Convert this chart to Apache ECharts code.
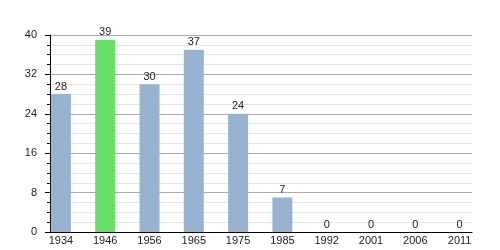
<!DOCTYPE html>
<html><head><meta charset="utf-8">
<script src="https://cdn.jsdelivr.net/npm/echarts@6/dist/echarts.min.js"></script>
<style>html,body{margin:0;padding:0;background:#fff}#c{width:500px;height:250px}</style>
</head><body><div id="c"></div>
<script>
const years = ['1934','1946','1956','1965','1975','1985','1992','2001','2006','2011'];
const values = [28,39,30,37,24,7,0,0,0,0];
const highlightYear = '1946';
const yTicks = [0,8,16,24,32,40];

const barBlue = '#98b3d0', barGreen = '#66e066';
const data = values.map((v,i)=>({value:[i,v], itemStyle:{color: years[i]===highlightYear?barGreen:barBlue}}));
const font = 'Liberation Sans, Arial, sans-serif';
const chart = echarts.init(document.getElementById('c'), null, {renderer:'canvas'});
chart.setOption({
  animation:false,
  grid:{left:50,right:28,top:35,bottom:18,containLabel:false},
  xAxis:{type:'value',min:-0.246,max:9.28,
    axisLine:{show:true,onZero:false,lineStyle:{color:'#000',width:1}},
    axisTick:{show:false},
    splitLine:{show:false},
    axisLabel:{customValues:years.map((y,i)=>i),formatter:v=>years[Math.round(v)],color:'#222',fontSize:11,fontFamily:font,margin:3}},
  yAxis:{type:'value',min:yTicks[0],max:yTicks[yTicks.length-1],interval:8,
    axisLine:{show:true,onZero:false,lineStyle:{color:'#000',width:1}},
    axisTick:{show:true,length:5,lineStyle:{color:'#000'}},
    minorTick:{show:true,splitNumber:4,length:3,lineStyle:{color:'#000'}},
    splitLine:{show:true,lineStyle:{color:'#aaa',width:1}},
    minorSplitLine:{show:true,lineStyle:{color:'#e4e4e4',width:1}},
    axisLabel:{color:'#222',fontSize:11,fontFamily:font,margin:13}},
  series:[{type:'bar',data:data,barWidth:20,
    label:{show:true,position:'top',distance:2,color:'#222',fontSize:11,fontFamily:font,formatter:p=>p.value[1]}}]
});
</script></body></html>
